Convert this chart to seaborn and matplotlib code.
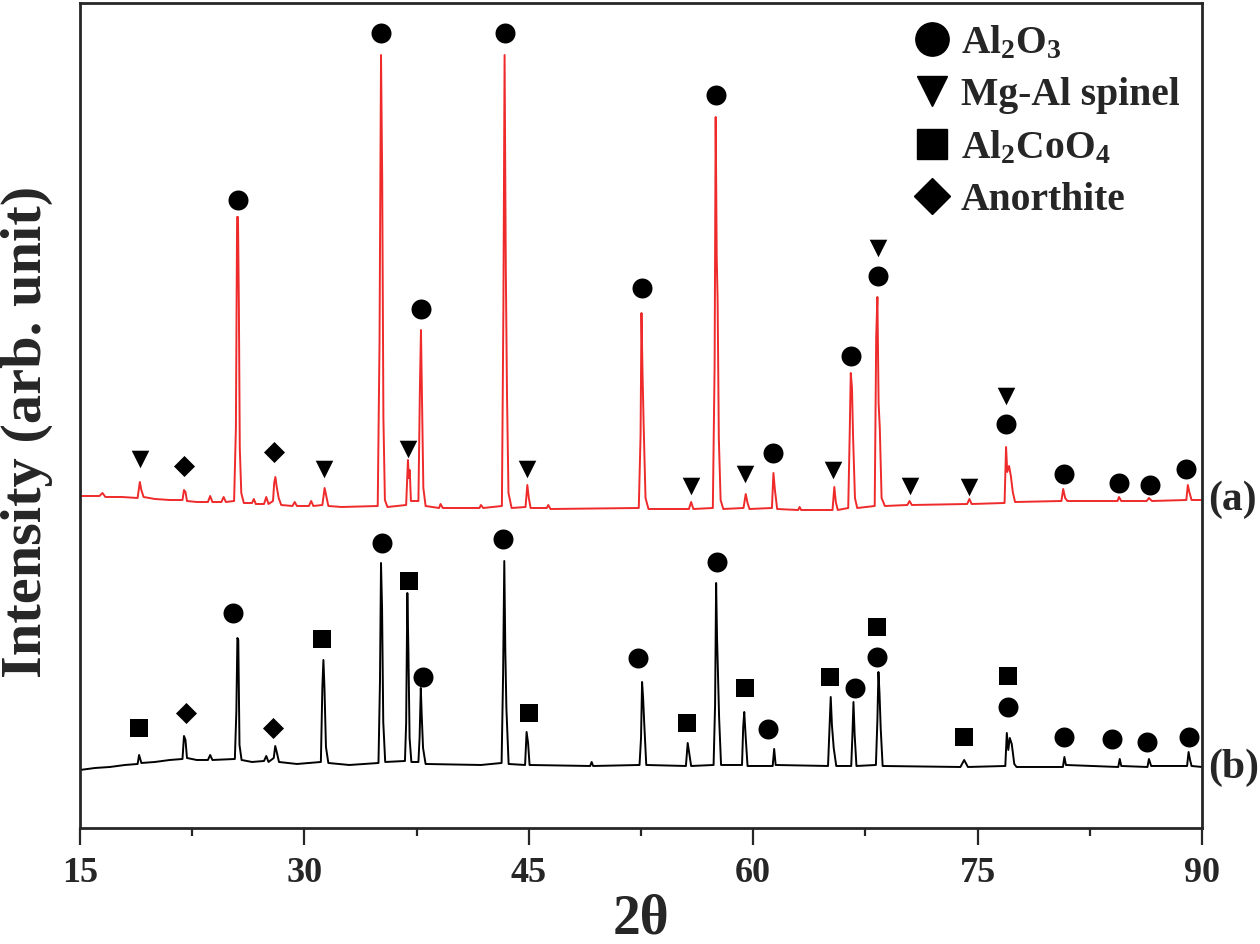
import numpy as np
import pandas as pd
import seaborn as sns
import matplotlib
matplotlib.use("Agg")
import matplotlib.pyplot as plt
from matplotlib.lines import Line2D
from matplotlib.ticker import MultipleLocator

red_x = [15.0, 16.3, 16.5, 16.7, 17.8, 18.85, 19.0, 19.1, 19.25, 20.0, 21.0, 21.85, 21.95, 22.05, 22.15,
         22.8, 23.55, 23.7, 23.85, 24.45, 24.6, 24.75, 25.3, 25.42, 25.5, 25.56, 25.62, 25.68, 25.78, 25.95,
         26.5, 26.62, 26.75, 27.3, 27.45, 27.6, 27.9, 27.98, 28.06, 28.15, 28.28, 28.45, 29.2, 29.35, 29.5,
         30.3, 30.45, 30.6, 31.2, 31.35, 31.45, 31.6, 32.5, 34.9, 35.02, 35.12, 35.2, 35.28, 35.38, 35.55,
         36.8, 36.92, 36.98, 37.04, 37.12, 37.62, 37.72, 37.79, 37.86, 37.95, 38.1, 39.0, 39.1, 39.25,
         41.7, 41.8, 41.95, 43.2, 43.3, 43.38, 43.46, 43.54, 43.64, 43.85, 44.78, 44.9, 45.0, 45.12,
         46.2, 46.3, 46.45, 52.35, 52.47, 52.53, 52.6, 52.68, 52.8, 53.0, 55.7, 55.85, 56.0,
         57.3, 57.42, 57.49, 57.56, 57.62, 57.7, 57.82, 58.0, 59.35, 59.5, 59.62, 59.75,
         61.25, 61.35, 61.45, 61.6, 63.0, 63.1, 63.2, 65.3, 65.42, 65.52, 65.65,
         66.35, 66.45, 66.52, 66.6, 66.68, 66.8, 66.95, 68.12, 68.22, 68.3, 68.38, 68.46, 68.58, 68.8,
         70.3, 70.45, 70.6, 74.3, 74.45, 74.6, 76.8, 76.9, 76.98, 77.1, 77.22, 77.35, 77.5,
         80.6, 80.72, 80.85, 81.0, 84.35, 84.45, 84.6, 86.3, 86.45, 86.65, 88.95, 89.05, 89.15, 89.3, 90.0]
red_y = [332, 332, 335, 331, 331, 330, 346, 338, 331, 329, 328, 328, 338, 336, 327,
         326, 326, 332, 326, 326, 331, 326, 327, 400, 611, 611, 520, 380, 335, 325,
         325, 329, 324, 324, 331, 324, 327, 345, 351, 341, 330, 323, 322, 326, 322,
         322, 327, 322, 323, 340, 333, 322, 321, 322, 485, 773, 648, 410, 328, 321,
         323, 368, 350, 358, 327, 327, 440, 498, 426, 340, 322, 320, 324, 320,
         320, 323, 320, 322, 520, 773, 563, 435, 335, 320, 321, 343, 330, 320,
         320, 323, 319, 320, 393, 515, 455, 400, 330, 319, 319, 326, 319,
         320, 465, 711, 570, 528, 390, 328, 319, 320, 334, 325, 319,
         320, 355, 338, 319, 318, 321, 318, 318, 341, 326, 318,
         320, 395, 455, 440, 388, 330, 320, 322, 491, 531, 425, 400, 330, 322,
         323, 327, 323, 324, 329, 324, 325, 381, 356, 362, 352, 336, 326,
         327, 339, 330, 327, 327, 331, 327, 327, 330, 327, 328, 343, 336, 328, 328]

black_x = [15.0, 16.0, 17.0, 18.0, 18.85, 18.95, 19.1, 20.0, 21.0, 21.85, 21.95, 22.05, 22.15, 22.8,
           23.55, 23.7, 23.85, 25.35, 25.45, 25.52, 25.58, 25.66, 25.8, 26.5, 27.3, 27.45, 27.6,
           27.95, 28.05, 28.15, 28.3, 29.5, 31.1, 31.2, 31.27, 31.34, 31.44, 31.6, 33.0,
           34.95, 35.05, 35.12, 35.19, 35.27, 35.4, 36.72, 36.8, 36.88, 36.95, 37.03, 37.15,
           37.62, 37.7, 37.78, 37.84, 37.93, 38.1, 41.8, 43.18, 43.28, 43.36, 43.43, 43.5, 43.65,
           44.75, 44.85, 44.95, 45.05, 49.1, 49.2, 49.3, 52.4, 52.5, 52.57, 52.64, 52.71, 52.85,
           55.5, 55.62, 55.72, 55.85, 57.35, 57.45, 57.52, 57.58, 57.64, 57.72, 57.85,
           59.25, 59.33, 59.4, 59.5, 59.62, 61.3, 61.4, 61.5, 65.0, 65.1, 65.18, 65.26, 65.38, 65.55,
           66.55, 66.63, 66.7, 66.78, 66.9, 68.2, 68.3, 68.37, 68.44, 68.52, 68.65,
           73.85, 74.1, 74.35, 76.85, 76.95, 77.05, 77.15, 77.28, 77.45, 77.6,
           80.7, 80.8, 80.9, 84.4, 84.5, 84.6, 86.35, 86.45, 86.6, 89.0, 89.1, 89.2, 89.3, 90.0]
black_y = [58, 60, 61, 63, 64, 73, 65, 66, 68, 69, 92, 88, 70, 68,
           68, 73, 68, 69, 116, 190, 188, 83, 68, 66, 67, 72, 66,
           70, 82, 76, 66, 64, 66, 141, 168, 140, 81, 65, 63,
           65, 146, 265, 220, 106, 66, 67, 105, 235, 178, 90, 66,
           66, 91, 140, 113, 80, 64, 63, 65, 153, 267, 176, 120, 64,
           63, 96, 85, 63, 62, 66, 62, 63, 90, 146, 130, 106, 63,
           62, 85, 75, 62, 63, 123, 245, 191, 155, 110, 63,
           63, 101, 116, 90, 62, 62, 79, 63, 62, 100, 131, 103, 80, 62,
           62, 93, 126, 93, 62, 63, 108, 156, 135, 100, 62,
           61, 68, 61, 62, 95, 78, 90, 84, 64, 61,
           61, 71, 63, 61, 69, 62, 61, 69, 62, 62, 76, 68, 62, 61]

# phase markers
red_circle_x = [25.55, 35.15, 37.8, 43.4, 52.55, 57.5, 61.3, 66.55, 68.35, 76.9, 80.8, 84.45, 86.5, 88.95]
red_circle_y = [628, 795, 519, 795, 540, 733, 375, 472, 552, 404, 354, 345, 343, 359]
red_tri_x = [19.0, 31.3, 36.95, 44.9, 55.85, 59.45, 65.35, 68.35, 70.45, 74.4, 76.9]
red_tri_y = [369, 359, 379, 359, 342, 354, 358, 580, 342, 341, 432]
red_dia_x = [21.95, 28.0]
red_dia_y = [362, 376]

black_circle_x = [25.2, 35.2, 37.9, 43.3, 52.3, 57.6, 61.0, 66.8, 68.3, 77.0, 80.8, 84.0, 86.3, 89.1]
black_circle_y = [215, 285, 151, 289, 170, 266, 99, 140, 171, 121, 91, 89, 86, 91]
black_sq_x = [18.95, 31.15, 37.0, 45.0, 55.6, 59.45, 65.15, 68.3, 74.1, 77.0]
black_sq_y = [100, 189, 247, 115, 105, 140, 151, 201, 91, 152]
black_dia_x = [22.1, 27.9]
black_dia_y = [115, 100]

sns.set_style("ticks")
plt.rcParams['font.family'] = ['Liberation Serif', 'DejaVu Serif']
plt.rcParams['font.weight'] = 'bold'
plt.rcParams['mathtext.fontset'] = 'custom'
plt.rcParams['mathtext.rm'] = 'Liberation Serif:bold'
plt.rcParams['mathtext.default'] = 'rm'

fig = plt.figure(figsize=(12.6, 9.44), dpi=100)
ax = fig.add_axes([0.0635, 0.1229, 0.8905, 0.8739])

sns.lineplot(x=red_x, y=red_y, color='#ee2a2a', lw=1.4, sort=False, estimator=None, ax=ax)
sns.lineplot(x=black_x, y=black_y, color='black', lw=1.4, sort=False, estimator=None, ax=ax)

mk = dict(color='black', linewidth=0, ax=ax, zorder=5, legend=False)
sns.scatterplot(x=red_circle_x + black_circle_x, y=red_circle_y + black_circle_y, marker='o', s=207, **mk)
sns.scatterplot(x=red_tri_x, y=red_tri_y, marker='v', s=160, **mk)
sns.scatterplot(x=black_sq_x, y=black_sq_y, marker='s', s=160, **mk)
sns.scatterplot(x=red_dia_x + black_dia_x, y=red_dia_y + black_dia_y, marker='D', s=115, **mk)

ax.text(90.4, 328, '(a)', fontsize=30, fontweight='bold', ha='left', va='center', clip_on=False)
ax.text(90.4, 60, '(b)', fontsize=30, fontweight='bold', ha='left', va='center', clip_on=False)

ax.set_xlim(15, 90)
ax.set_ylim(0, 825)
ax.xaxis.set_major_locator(MultipleLocator(15))
ax.xaxis.set_minor_locator(MultipleLocator(7.5))
ax.set_yticks([])
ax.tick_params(axis='x', which='major', direction='out', length=12, width=1.6, labelsize=26, pad=9)
ax.tick_params(axis='x', which='minor', direction='out', length=6, width=1.6)
for s in ax.spines.values():
    s.set_linewidth(2)
    s.set_visible(True)

ax.set_xlabel('2θ', fontsize=40, fontweight='bold')
ax.xaxis.set_label_coords(0.5, -0.08)
ax.set_ylabel('Intensity (arb. unit)', fontsize=42, fontweight='bold')
ax.yaxis.set_label_coords(-0.024, 0.48)

handles = [
    Line2D([], [], ls='', marker='o', ms=24, color='black', label='Al$_2$O$_3$'),
    Line2D([], [], ls='', marker='v', ms=22, color='black', label='Mg-Al spinel'),
    Line2D([], [], ls='', marker='s', ms=21, color='black', label='Al$_2$CoO$_4$'),
    Line2D([], [], ls='', marker='D', ms=18, color='black', label='Anorthite'),
]
ax.legend(handles=handles, loc='upper left', bbox_to_anchor=(0.742, 0.974), frameon=False,
          fontsize=28.5, handlelength=1.0, handletextpad=0.22, labelspacing=0.38,
          borderpad=0, borderaxespad=0)

fig.savefig('out.png', dpi=100)
